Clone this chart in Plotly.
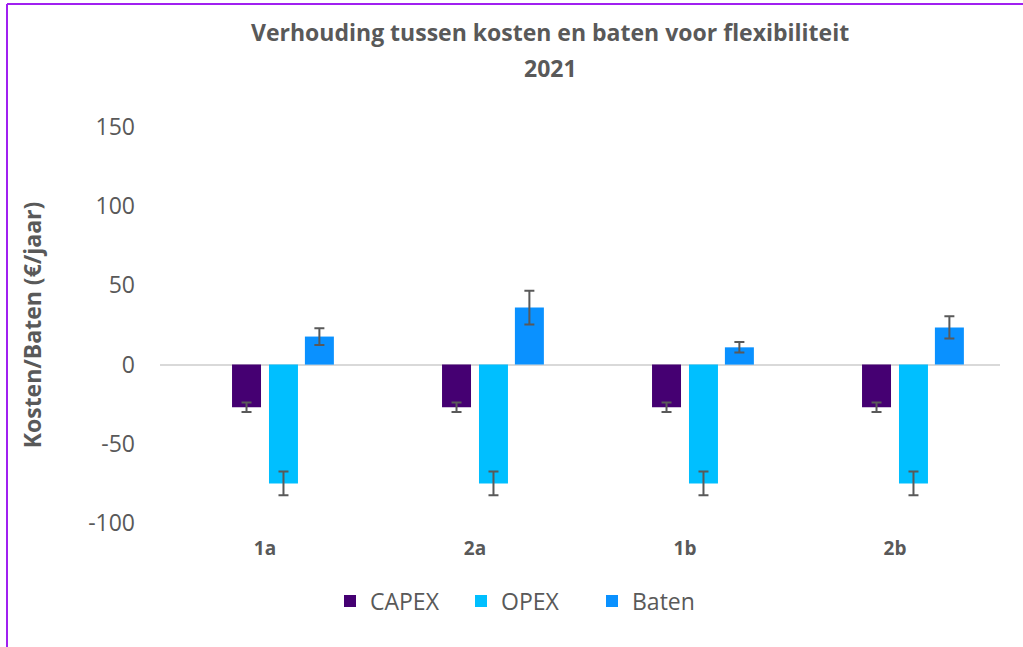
import plotly.graph_objects as go

categories = ["1a", "2a", "1b", "2b"]
capex = [-27, -27, -27, -27]
capex_err = [3, 3, 3, 3]
opex = [-75, -75, -75, -75]
opex_err = [7.5, 7.5, 7.5, 7.5]
baten = [17.7, 36, 10.9, 23.5]
baten_err = [5.3, 10.7, 3.3, 7]
y_tickvals = [-100, -50, 0, 50, 100, 150]
y_ticktext = ["-100", "-50", "0", "50", "100", "150"]

series = [
    ("CAPEX", capex, capex_err, "#450072", -0.157),
    ("OPEX", opex, opex_err, "#00BFFF", 0.019),
    ("Baten", baten, baten_err, "#0A91FF", 0.19),
]

fig = go.Figure()
for name, vals, errs, color, off in series:
    fig.add_trace(go.Bar(
        name=name, x=categories, y=vals,
        offset=off, width=0.138,
        marker=dict(color=color, line=dict(width=0)),
        error_y=dict(type="data", array=errs, visible=True,
                     color="#595959", thickness=2, width=5),
    ))

grey = "#595959"
W, H = 1023, 647
L, R, T, B = 160, 23, 127, 124
pw, ph = W - L - R, H - T - B


def px_x(x):
    return (x - L) / pw


def px_y(y):
    return (H - B - y) / ph


fig.update_layout(
    width=W, height=H,
    margin=dict(l=L, r=R, t=T, b=B),
    paper_bgcolor="white", plot_bgcolor="white",
    barmode="overlay",
    font=dict(family="Open Sans", color=grey),
    xaxis=dict(
        type="category", range=[-0.5, 3.5],
        showgrid=False, showline=False, zeroline=False,
        ticks="", tickfont=dict(size=19, color=grey, family="Open Sans", weight="bold"),
        ticklabelstandoff=12,
    ),
    yaxis=dict(
        range=[-100, 150], tickvals=y_tickvals, ticktext=y_ticktext,
        showgrid=False, showline=False,
        zeroline=True, zerolinecolor="#D9D9D9", zerolinewidth=2,
        ticks="", tickfont=dict(size=23, color=grey, family="Open Sans"),
        ticklabelstandoff=24,
        title=dict(text="<b>Kosten/Baten (€/jaar)</b>",
                   font=dict(size=23, color=grey, family="Open Sans"),
                   standoff=40),
    ),
    legend=dict(
        orientation="h", x=px_x(330), xanchor="left",
        y=px_y(601), yanchor="middle",
        font=dict(size=23, color=grey, family="Open Sans"),
        itemwidth=30, traceorder="normal",
        entrywidth=86, entrywidthmode="pixels",
    ),
    showlegend=True,
)

fig.add_annotation(text="<b>Verhouding tussen kosten en baten voor flexibiliteit</b>",
                   xref="paper", yref="paper", x=px_x(550), y=px_y(32),
                   xanchor="center", yanchor="middle", showarrow=False,
                   font=dict(size=23, color=grey, family="Open Sans"))
fig.add_annotation(text="<b>2021</b>",
                   xref="paper", yref="paper", x=px_x(550), y=px_y(68),
                   xanchor="center", yanchor="middle", showarrow=False,
                   font=dict(size=23, color=grey, family="Open Sans"))

purple = "#A020F0"
# outer chart border (top and left edges visible)
fig.add_shape(type="line", xref="paper", yref="paper",
              x0=px_x(7), x1=px_x(1023), y0=px_y(4), y1=px_y(4),
              line=dict(color=purple, width=2))
fig.add_shape(type="line", xref="paper", yref="paper",
              x0=px_x(7), x1=px_x(7), y0=px_y(4), y1=px_y(647),
              line=dict(color=purple, width=2))

fig.write_html("out.html", config={"displayModeBar": False},
               post_script="document.body.style.margin='0';")
